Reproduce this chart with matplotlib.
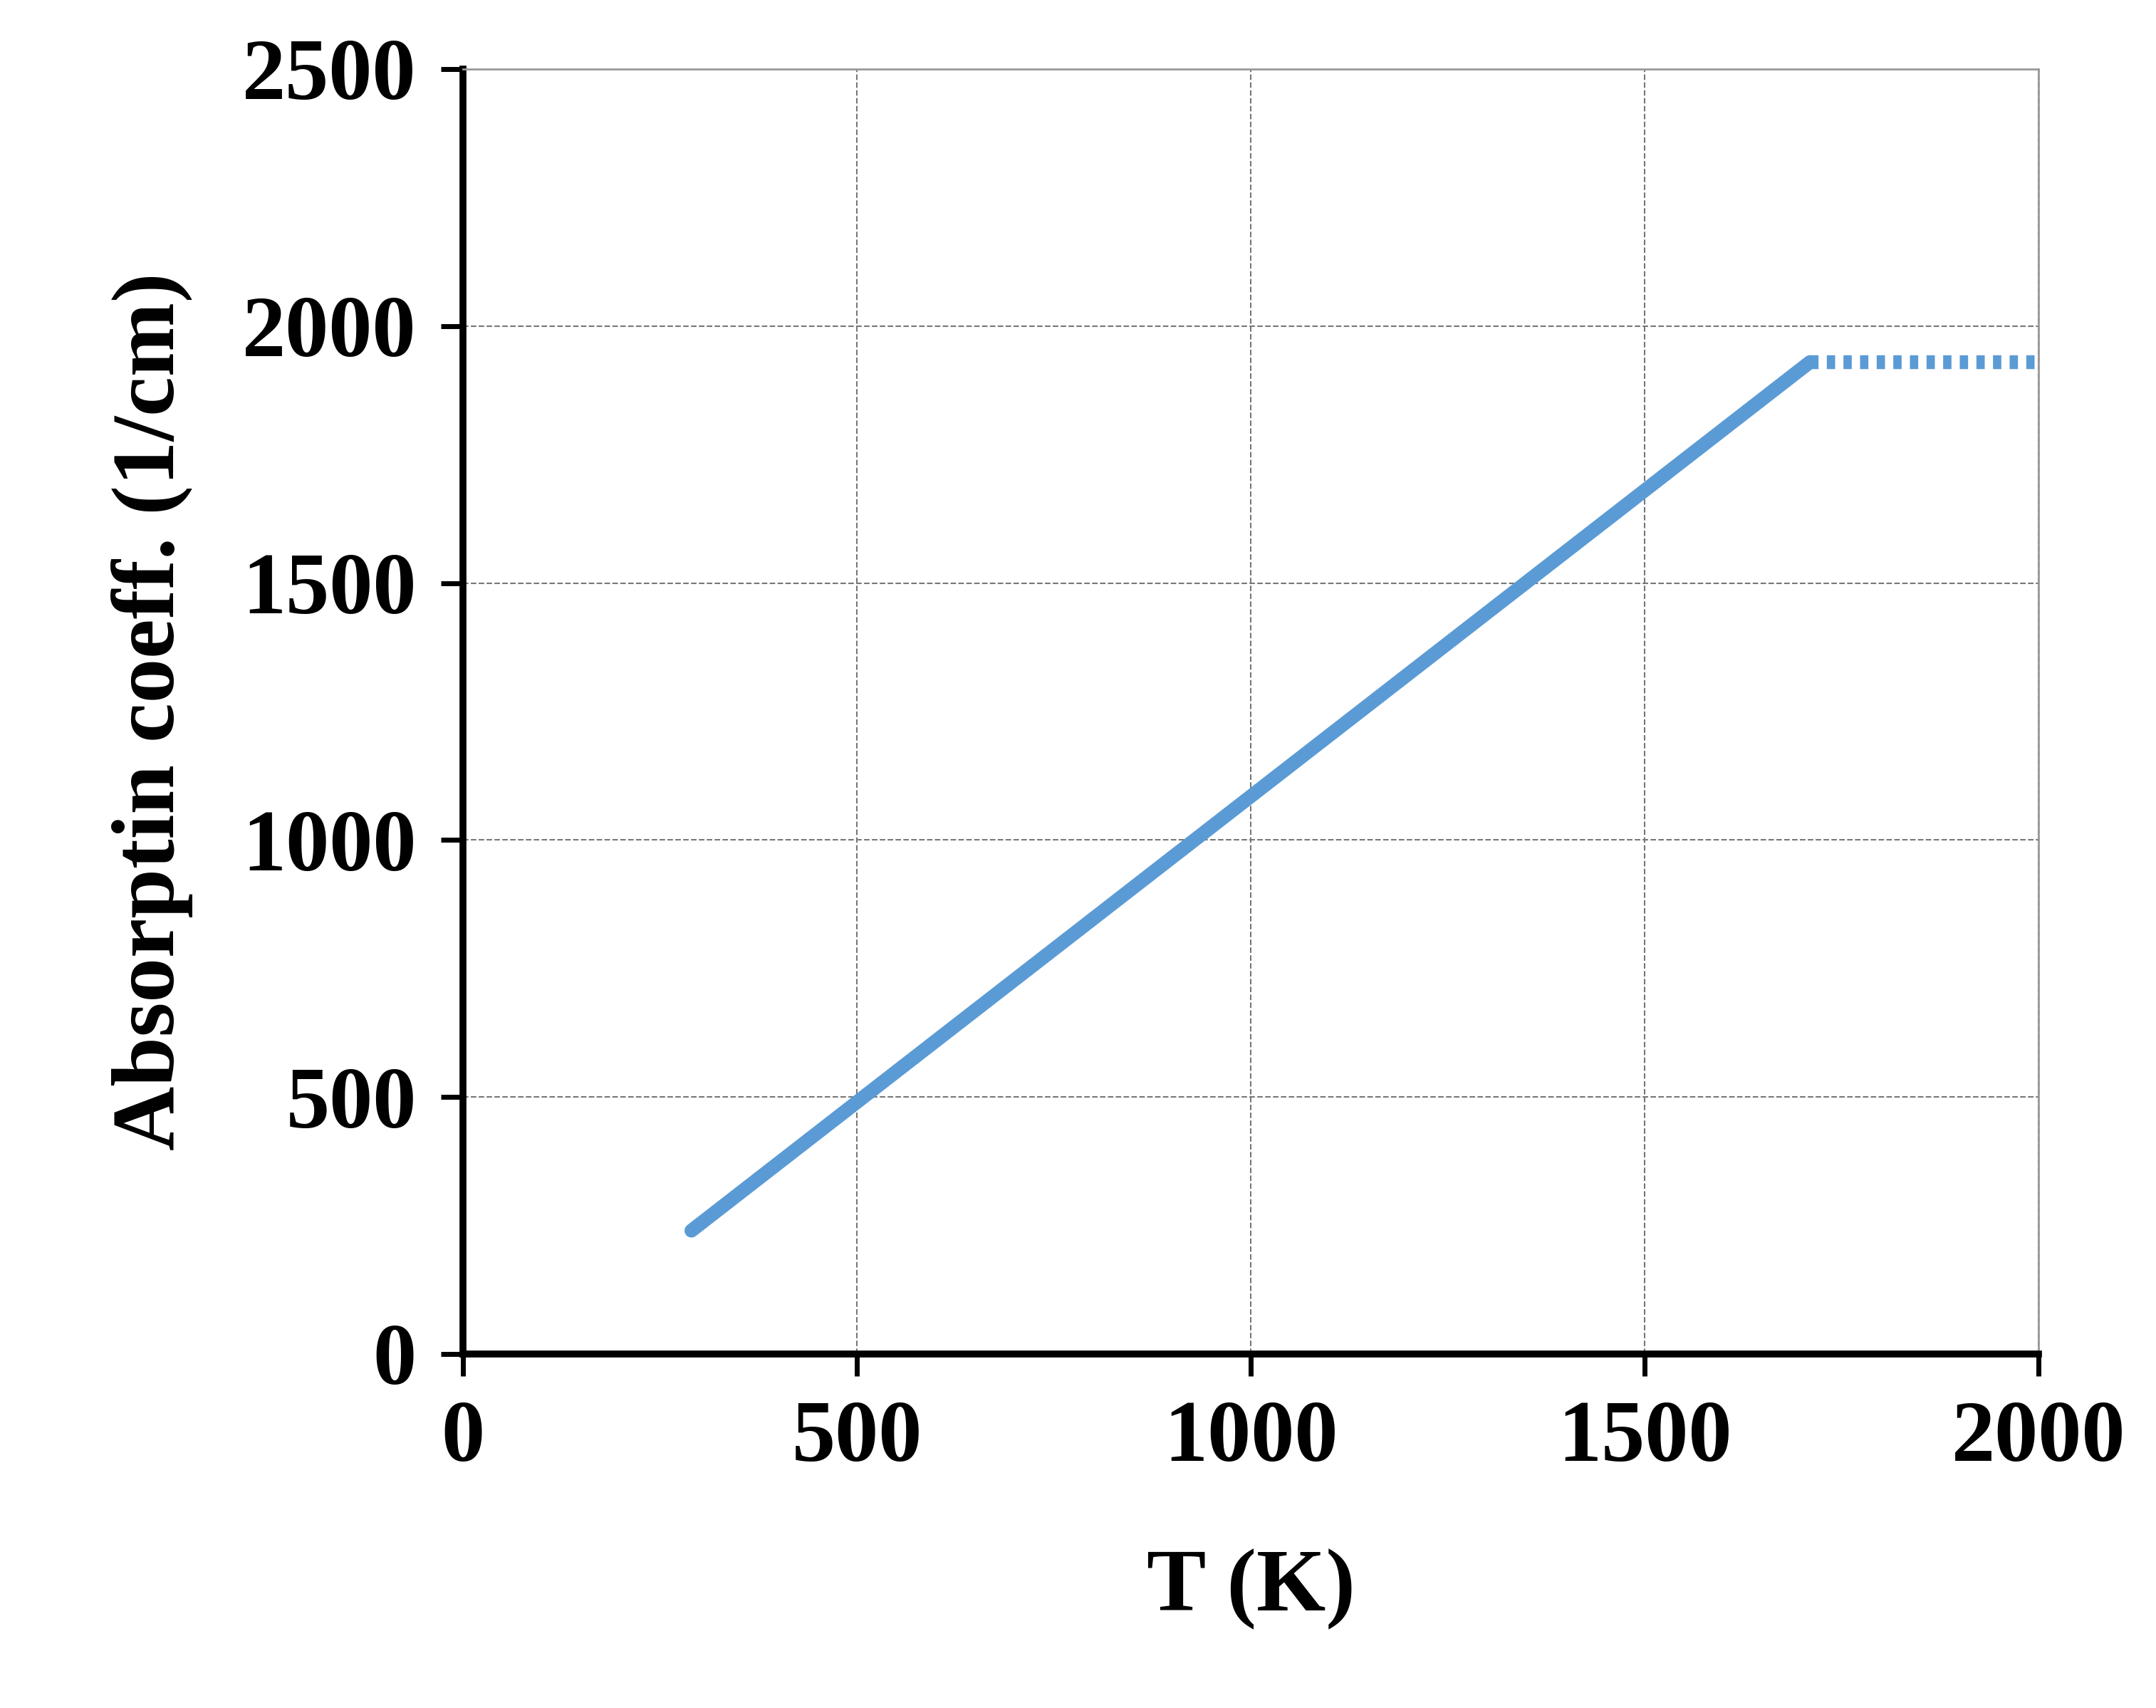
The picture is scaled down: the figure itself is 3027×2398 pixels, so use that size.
import matplotlib.pyplot as plt

# Data
t_solid = [290, 1710]
a_solid = [240, 1930]
t_flat = [1710, 2000]
a_flat = [1930, 1930]
x_ticks = [0, 500, 1000, 1500, 2000]
y_ticks = [0, 500, 1000, 1500, 2000, 2500]

plt.rcParams['font.family'] = ['Liberation Serif', 'DejaVu Serif']
plt.rcParams['font.weight'] = 'bold'

fig = plt.figure(figsize=(30.27, 23.98), dpi=100)
ax = fig.add_axes([650/3027, 1 - 1901/2398, (2862-650)/3027, (1901-97)/2398])

col = '#5B9BD5'
ax.plot(t_solid, a_solid, color=col, lw=14, solid_capstyle='round')
ax.plot(t_flat, a_flat, color=col, lw=14, linestyle=(0, (0.6, 0.6)))

ax.set_xlim(0, 2000)
ax.set_ylim(0, 2500)
ax.set_xticks(x_ticks)
ax.set_yticks(y_ticks)
ax.grid(True, color='#777777', linestyle='--', linewidth=1.5)

for s in ['left', 'bottom']:
    ax.spines[s].set_linewidth(7)
    ax.spines[s].set_color('black')
for s in ['top', 'right']:
    ax.spines[s].set_linewidth(2)
    ax.spines[s].set_color('#999999')

ax.tick_params(axis='both', direction='out', length=22, width=5, labelsize=88, pad=25)
for lab in ax.get_xticklabels() + ax.get_yticklabels():
    lab.set_fontweight('bold')

ax.set_xlabel('T (K)', fontsize=90, fontweight='bold', labelpad=70)
ax.set_ylabel('Absorptin coeff. (1/cm)', fontsize=90, fontweight='bold', labelpad=50)

fig.savefig('out.png')
